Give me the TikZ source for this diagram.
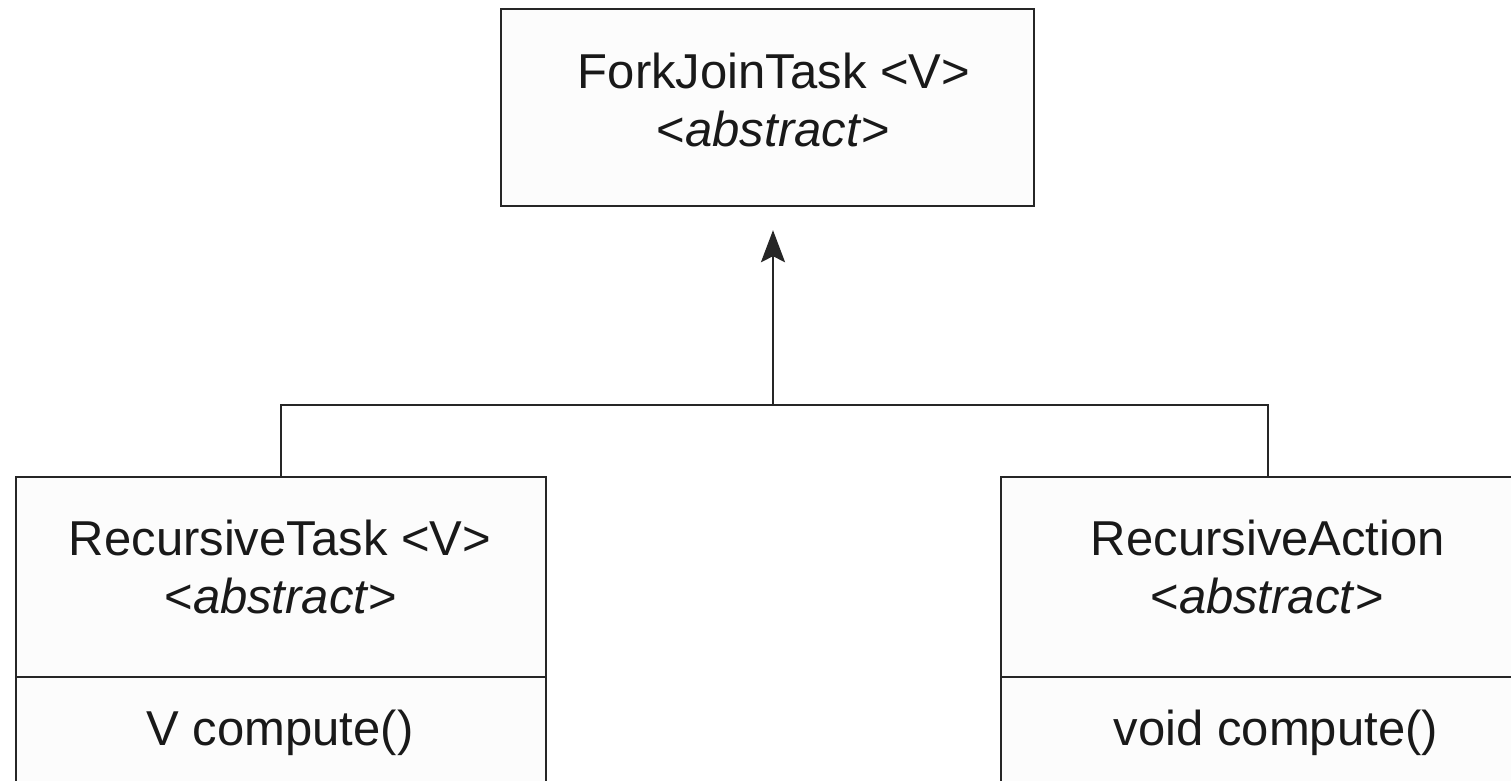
\documentclass[tikz,border=0pt]{standalone}
\usepackage{fontspec}
\setmainfont{Liberation Sans}
\usetikzlibrary{arrows.meta}
\begin{document}
\begin{tikzpicture}[x=0.5pt,y=-0.5pt,
  box/.style={draw=black!85, line width=1.1pt, fill=black!1, rectangle, inner sep=0pt, anchor=north west},
  lbl/.style={font=\fontsize{24.5}{29}\selectfont, anchor=base, inner sep=0pt, text=black!90},
  conn/.style={draw=black!85, line width=1.1pt}]
\fill[white] (0,0) rectangle (1511,781);
\useasboundingbox (0,0) rectangle (1511,781);
% top class
\node[box, minimum width=266.5pt, minimum height=98.5pt] (fj) at (500,8) {};
\node[lbl] (fjname) at (774,89) {ForkJoinTask <V>};
\node[lbl] (fjabs) at (773.5,147) {<\textit{abstract}>};
% left class
\node[box, minimum width=265pt, minimum height=100pt] (ltop) at (15,476) {};
\node[box, minimum width=265pt, minimum height=70pt] (lbot) at (15,676) {};
\node[lbl] (lname) at (280,555) {RecursiveTask <V>};
\node[lbl] (labs) at (281,613) {<\textit{abstract}>};
\node[lbl] (lop) at (280,745) {V compute()};
% right class
\node[box, minimum width=267pt, minimum height=100pt] (rtop) at (1000,476) {};
\node[box, minimum width=267pt, minimum height=70pt] (rbot) at (1000,676) {};
\node[lbl] (rname) at (1268,555) {RecursiveAction};
\node[lbl] (rabs) at (1267,613) {<\textit{abstract}>};
\node[lbl] (rop) at (1276,745) {void compute()};
% connectors
\coordinate (j) at (773,405);
\draw[conn] (ltop.north) |- (j) -| (rtop.north);
\draw[conn, -{Stealth[length=16pt, width=12pt, inset=3pt]}, shorten >=11.5pt] (j) -- (fj.south -| j);
\end{tikzpicture}
\end{document}
